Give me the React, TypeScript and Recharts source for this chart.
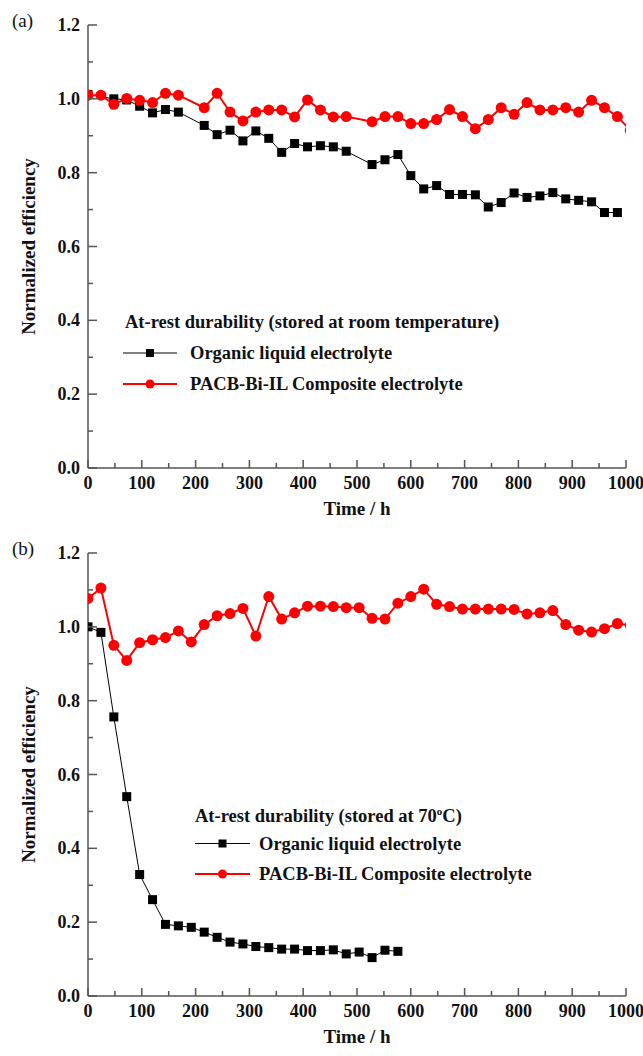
import React from "react";
import { LineChart, Line, XAxis, YAxis, Legend } from "recharts";

// (a) stored at room temperature
const roomOrgTime = [0, 48, 72, 96, 120, 144, 168, 216, 240, 264, 288, 312, 336, 360, 384, 408, 432, 456, 480, 528, 552, 576, 600, 624, 648, 672, 696, 720, 744, 768, 792, 816, 840, 864, 888, 912, 936, 960, 984];
const roomOrgEff = [1.012, 1.0, 0.997, 0.98, 0.962, 0.971, 0.964, 0.928, 0.903, 0.915, 0.886, 0.913, 0.893, 0.855, 0.879, 0.87, 0.873, 0.87, 0.858, 0.822, 0.835, 0.849, 0.792, 0.756, 0.765, 0.741, 0.741, 0.74, 0.707, 0.719, 0.745, 0.733, 0.737, 0.746, 0.729, 0.725, 0.721, 0.692, 0.692];
const roomPacTime = [0, 24, 48, 72, 96, 120, 144, 168, 216, 240, 264, 288, 312, 336, 360, 384, 408, 432, 456, 480, 528, 552, 576, 600, 624, 648, 672, 696, 720, 744, 768, 792, 816, 840, 864, 888, 912, 936, 960, 984, 1008];
const roomPacEff = [1.01, 1.01, 0.985, 1.001, 0.996, 0.99, 1.015, 1.01, 0.976, 1.015, 0.964, 0.94, 0.964, 0.97, 0.97, 0.951, 0.997, 0.97, 0.951, 0.952, 0.938, 0.952, 0.952, 0.933, 0.933, 0.944, 0.971, 0.952, 0.919, 0.944, 0.976, 0.958, 0.99, 0.97, 0.97, 0.976, 0.964, 0.996, 0.976, 0.952, 0.915];

// (b) stored at 70 C
const hotOrgTime = [0, 24, 48, 72, 96, 120, 144, 168, 192, 216, 240, 264, 288, 312, 336, 360, 384, 408, 432, 456, 480, 504, 528, 552, 576];
const hotOrgEff = [1.0, 0.985, 0.756, 0.54, 0.329, 0.261, 0.194, 0.19, 0.186, 0.173, 0.159, 0.146, 0.141, 0.134, 0.131, 0.127, 0.127, 0.123, 0.123, 0.125, 0.114, 0.119, 0.104, 0.124, 0.121];
const hotPacTime = [0, 24, 48, 72, 96, 120, 144, 168, 192, 216, 240, 264, 288, 312, 336, 360, 384, 408, 432, 456, 480, 504, 528, 552, 576, 600, 624, 648, 672, 696, 720, 744, 768, 792, 816, 840, 864, 888, 912, 936, 960, 984, 1008];
const hotPacEff = [1.077, 1.105, 0.95, 0.909, 0.957, 0.965, 0.971, 0.989, 0.959, 1.006, 1.03, 1.036, 1.05, 0.975, 1.082, 1.021, 1.038, 1.056, 1.056, 1.055, 1.052, 1.052, 1.023, 1.021, 1.064, 1.082, 1.102, 1.061, 1.055, 1.048, 1.048, 1.048, 1.048, 1.047, 1.035, 1.038, 1.044, 1.006, 0.991, 0.986, 0.995, 1.009, 1.004];

const xTicks = [0, 50, 100, 150, 200, 250, 300, 350, 400, 450, 500, 550, 600, 650, 700, 750, 800, 850, 900, 950, 1000];
const yTicks = [0, 0.1, 0.2, 0.3, 0.4, 0.5, 0.6, 0.7, 0.8, 0.9, 1.0, 1.1, 1.2];

const ORG_NAME = "Organic liquid electrolyte";
const PAC_NAME = "PACB-Bi-IL Composite electrolyte";

const FONT = '"Times New Roman", "Liberation Serif", serif';
const AXIS = "#555555";
const W = 643;
const H = 528;
const MT = 25;
const MR = 17;
const YW = 88;
const XH = 60;
const PLOT_BOTTOM = H - XH;
const PLOT_H = PLOT_BOTTOM - MT;
const LEG_FS = 18.5;

const toRows = (t: number[], v: number[]) => t.map((time, i) => ({ time, eff: v[i] }));

const renderXTick = (props: any) => {
    const { x, payload } = props;
    const v = payload.value;
    const major = v % 100 === 0;
    return (
        <g>
            <line x1={x} x2={x} y1={PLOT_BOTTOM} y2={PLOT_BOTTOM - (major ? 8 : 5)} stroke={AXIS} strokeWidth={1.5} />
            {major && (
                <text x={x} y={PLOT_BOTTOM + 15} textAnchor="middle" dominantBaseline="central"
                    fontFamily={FONT} fontWeight="bold" fontSize={18} fill="#111">
                    {v}
                </text>
            )}
        </g>
    );
};

const renderYTick = (props: any) => {
    const { y, payload } = props;
    const v = payload.value;
    const major = Math.round(v * 10) % 2 === 0;
    return (
        <g>
            <line x1={YW} x2={YW + (major ? 9 : 5)} y1={y} y2={y} stroke={AXIS} strokeWidth={1.5} />
            {major && (
                <text x={YW - 8} y={y} textAnchor="end" dominantBaseline="central"
                    fontFamily={FONT} fontWeight="bold" fontSize={18} fill="#111">
                    {v.toFixed(1)}
                </text>
            )}
        </g>
    );
};

const squareDot = (p: any) => {
    if (p.cx == null || p.cy == null) return <g key={`s${p.index}`} />;
    return <rect key={`s${p.index}`} x={p.cx - 4.5} y={p.cy - 4.5} width={9} height={9} fill="#000" />;
};

const circleDot = (p: any) => {
    if (p.cx == null || p.cy == null) return <g key={`c${p.index}`} />;
    return <circle key={`c${p.index}`} cx={p.cx} cy={p.cy} r={5.5} fill="#ff0000" />;
};

interface LegendLayout {
    left: number;
    top: number;
    lineX0: number;
    lineX1: number;
    textX: number;
    row1: number;
    row2: number;
}

function makeLegend(title: React.ReactNode, L: LegendLayout) {
    const mid = (L.lineX0 + L.lineX1) / 2;
    return () => (
        <svg width={460} height={90} style={{ overflow: "visible" }}>
            <text x={5} y={18} fontFamily={FONT} fontWeight="bold" fontSize={LEG_FS} fill="#111">{title}</text>
            <line x1={L.lineX0} x2={L.lineX1} y1={L.row1} y2={L.row1} stroke="#000" strokeWidth={1} />
            <rect x={mid - 4} y={L.row1 - 4} width={8} height={8} fill="#000" />
            <text x={L.textX} y={L.row1 + 6} fontFamily={FONT} fontWeight="bold" fontSize={LEG_FS} fill="#111">{ORG_NAME}</text>
            <line x1={L.lineX0} x2={L.lineX1} y1={L.row2} y2={L.row2} stroke="#ff0000" strokeWidth={2} />
            <circle cx={mid} cy={L.row2} r={4.5} fill="#ff0000" />
            <text x={L.textX} y={L.row2 + 6} fontFamily={FONT} fontWeight="bold" fontSize={LEG_FS} fill="#111">{PAC_NAME}</text>
        </svg>
    );
}

interface PanelProps {
    tag: string;
    top: number;
    org: { time: number; eff: number }[];
    pac: { time: number; eff: number }[];
    title: React.ReactNode;
    legend: LegendLayout;
}

function Panel({ tag, top, org, pac, title, legend }: PanelProps) {
    return (
        <div style={{ position: "absolute", left: 0, top, width: W, height: H }}>
            <div style={{ position: "absolute", left: 12, top: 10, fontFamily: FONT, fontSize: 19, color: "#111", lineHeight: "22px", zIndex: 2 }}>
                {tag}
            </div>
            <LineChart width={W} height={H} margin={{ top: MT, right: MR, left: 0, bottom: 0 }}>
                <XAxis
                    dataKey="time"
                    type="number"
                    domain={[0, 1000]}
                    ticks={xTicks}
                    interval={0}
                    allowDataOverflow
                    height={XH}
                    axisLine={{ stroke: AXIS, strokeWidth: 1.5 }}
                    tickLine={false}
                    tick={renderXTick}
                    label={{
                        content: () => (
                            <text x={YW + (W - MR - YW) / 2} y={PLOT_BOTTOM + 40} textAnchor="middle" dominantBaseline="central"
                                fontFamily={FONT} fontWeight="bold" fontSize={19} fill="#111">
                                Time / h
                            </text>
                        ),
                    }}
                />
                <XAxis xAxisId="top" orientation="top" type="number" domain={[0, 1000]} height={0}
                    tick={false} tickLine={false} axisLine={{ stroke: AXIS, strokeWidth: 1.5 }} />
                <YAxis
                    type="number"
                    domain={[0, 1.2]}
                    ticks={yTicks}
                    interval={0}
                    width={YW}
                    axisLine={{ stroke: AXIS, strokeWidth: 1.5 }}
                    tickLine={false}
                    tick={renderYTick}
                    label={{
                        content: () => (
                            <text x={28} y={MT + PLOT_H / 2} transform={`rotate(-90 28 ${MT + PLOT_H / 2})`}
                                textAnchor="middle" dominantBaseline="central"
                                fontFamily={FONT} fontWeight="bold" fontSize={19} fill="#111">
                                Normalized efficiency
                            </text>
                        ),
                    }}
                />
                <YAxis yAxisId="right" orientation="right" type="number" domain={[0, 1.2]} width={0}
                    tick={false} tickLine={false} axisLine={{ stroke: AXIS, strokeWidth: 1.5 }} />
                <Legend
                    layout="horizontal"
                    verticalAlign="middle"
                    wrapperStyle={{ left: legend.left, top: legend.top, width: 460, height: 90 }}
                    content={makeLegend(title, legend)}
                />
                <Line
                    data={org}
                    dataKey="eff"
                    name={ORG_NAME}
                    stroke="#000"
                    strokeWidth={1}
                    dot={squareDot}
                    activeDot={false}
                    isAnimationActive={false}
                />
                <Line
                    data={pac}
                    dataKey="eff"
                    name={PAC_NAME}
                    stroke="#ff0000"
                    strokeWidth={2}
                    dot={circleDot}
                    activeDot={false}
                    isAnimationActive={false}
                />
            </LineChart>
        </div>
    );
}

export default function App() {
    return (
        <div style={{ position: "absolute", left: 0, top: 0, width: W, height: 1056, background: "#fff" }}>
            <Panel
                tag="(a)"
                top={0}
                org={toRows(roomOrgTime, roomOrgEff)}
                pac={toRows(roomPacTime, roomPacEff)}
                title="At-rest durability (stored at room temperature)"
                legend={{ left: 120, top: 310, lineX0: 3, lineX1: 57, textX: 70, row1: 43, row2: 74 }}
            />
            <Panel
                tag="(b)"
                top={528}
                org={toRows(hotOrgTime, hotOrgEff)}
                pac={toRows(hotPacTime, hotPacEff)}
                title={
                    <>
                        At-rest durability (stored at 70
                        <tspan dy={-7} fontSize={11}>o</tspan>
                        <tspan dy={7}>C)</tspan>
                    </>
                }
                legend={{ left: 190, top: 276, lineX0: 5, lineX1: 60, textX: 69, row1: 39.5, row2: 70 }}
            />
        </div>
    );
}
